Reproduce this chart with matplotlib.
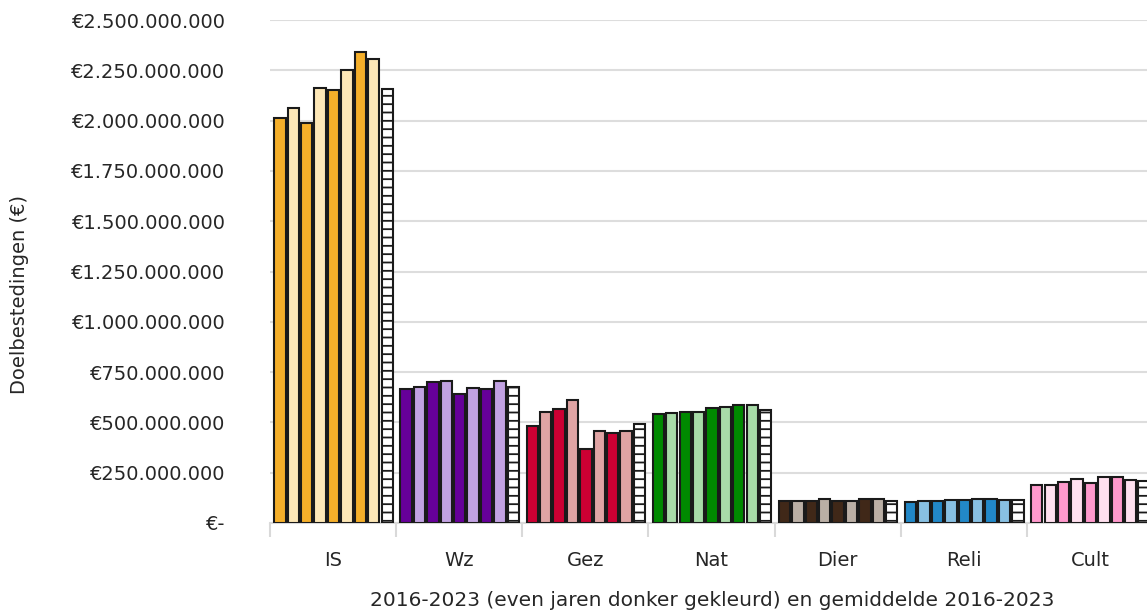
import numpy as np
import matplotlib.pyplot as plt
from matplotlib.ticker import FuncFormatter

plt.rcParams['font.family'] = ['DejaVu Sans']
plt.rcParams['hatch.color'] = '#707070'
plt.rcParams['hatch.linewidth'] = 1.3

# Doelbestedingen per doel, 2016-2023 (in miljoen euro) en gemiddelde
categorieen = ['IS', 'Wz', 'Gez', 'Nat', 'Dier', 'Reli', 'Cult']
jaren = [2016, 2017, 2018, 2019, 2020, 2021, 2022, 2023]

is_waarden = [2014, 2064, 1990, 2162, 2154, 2251, 2341, 2306]
wz_waarden = [664, 676, 699, 704, 641, 673, 664, 707]
gez_waarden = [484, 550, 567, 611, 369, 459, 446, 459]
nat_waarden = [542, 547, 550, 552, 572, 578, 588, 585]
dier_waarden = [108, 108, 111, 121, 111, 108, 118, 121]
reli_waarden = [104, 108, 108, 113, 113, 118, 118, 114]
cult_waarden = [190, 187, 205, 219, 197, 227, 227, 214]

gemiddelden = [2159, 678, 492, 563, 111, 113, 207]

waarden = [is_waarden, wz_waarden, gez_waarden, nat_waarden,
           dier_waarden, reli_waarden, cult_waarden]

donker = ['#F5AF2A', '#660099', '#CC0033', '#008A00', '#402818', '#2288C8', '#FF99CC']
licht = ['#FDE7B6', '#C2A2E2', '#E0A4A4', '#A8DBA8', '#BAAFA5', '#88C0E2', '#FFE0EF']

fig = plt.figure(figsize=(11.47, 6.15), dpi=100)
ax = fig.add_axes([270 / 1147, 1 - 523 / 615, 883 / 1147, (523 - 20) / 615])

stap = 0.1063
breedte = 0.09
for i, reeks in enumerate(waarden):
    midden = i + 0.5
    for j, w in enumerate(reeks):
        kleur = donker[i] if jaren[j] % 2 == 0 else licht[i]
        ax.bar(midden + (j - 4) * stap + 0.004, w * 1e6, width=breedte,
               color=kleur, edgecolor='#1a1a1a', linewidth=1.5, zorder=3)
    ax.bar(midden + 4 * stap + 0.004, gemiddelden[i] * 1e6, width=breedte,
           color='white', edgecolor='#1a1a1a', linewidth=1.5, hatch='--', zorder=3)

ax.set_xlim(0, 7)
ax.set_ylim(0, 2.5e9)
ax.set_yticks(np.arange(0, 2.5e9 + 1, 2.5e8))


def euro(v, pos):
    if v == 0:
        return '€-'
    return '€' + f'{int(v):,}'.replace(',', '.')


ax.yaxis.set_major_formatter(FuncFormatter(euro))
ax.tick_params(axis='y', length=0, pad=32, labelsize=14, labelcolor='#262626')

ax.set_xticks(np.arange(7) + 0.5)
ax.set_xticklabels(categorieen)
ax.set_xticks(np.arange(8), minor=True)
ax.tick_params(axis='x', which='major', length=0, pad=20, labelsize=14, labelcolor='#262626')
ax.tick_params(axis='x', which='minor', length=10, width=1.5, color='#D9D9D9')

ax.grid(axis='y', color='#DDDDDD', linewidth=1.5, zorder=0)
for s in ['top', 'right', 'left']:
    ax.spines[s].set_visible(False)
ax.spines['bottom'].set_color('#D9D9D9')
ax.spines['bottom'].set_linewidth(1.5)

fig.text(20 / 1147, 1 - 294 / 615, 'Doelbestedingen (€)', rotation=90,
         ha='center', va='center', fontsize=14, color='#262626')
fig.text(712 / 1147, 1 - 600 / 615, '2016-2023 (even jaren donker gekleurd) en gemiddelde 2016-2023',
         ha='center', va='center', fontsize=14.5, color='#262626')

fig.savefig('out.png', dpi=100)
